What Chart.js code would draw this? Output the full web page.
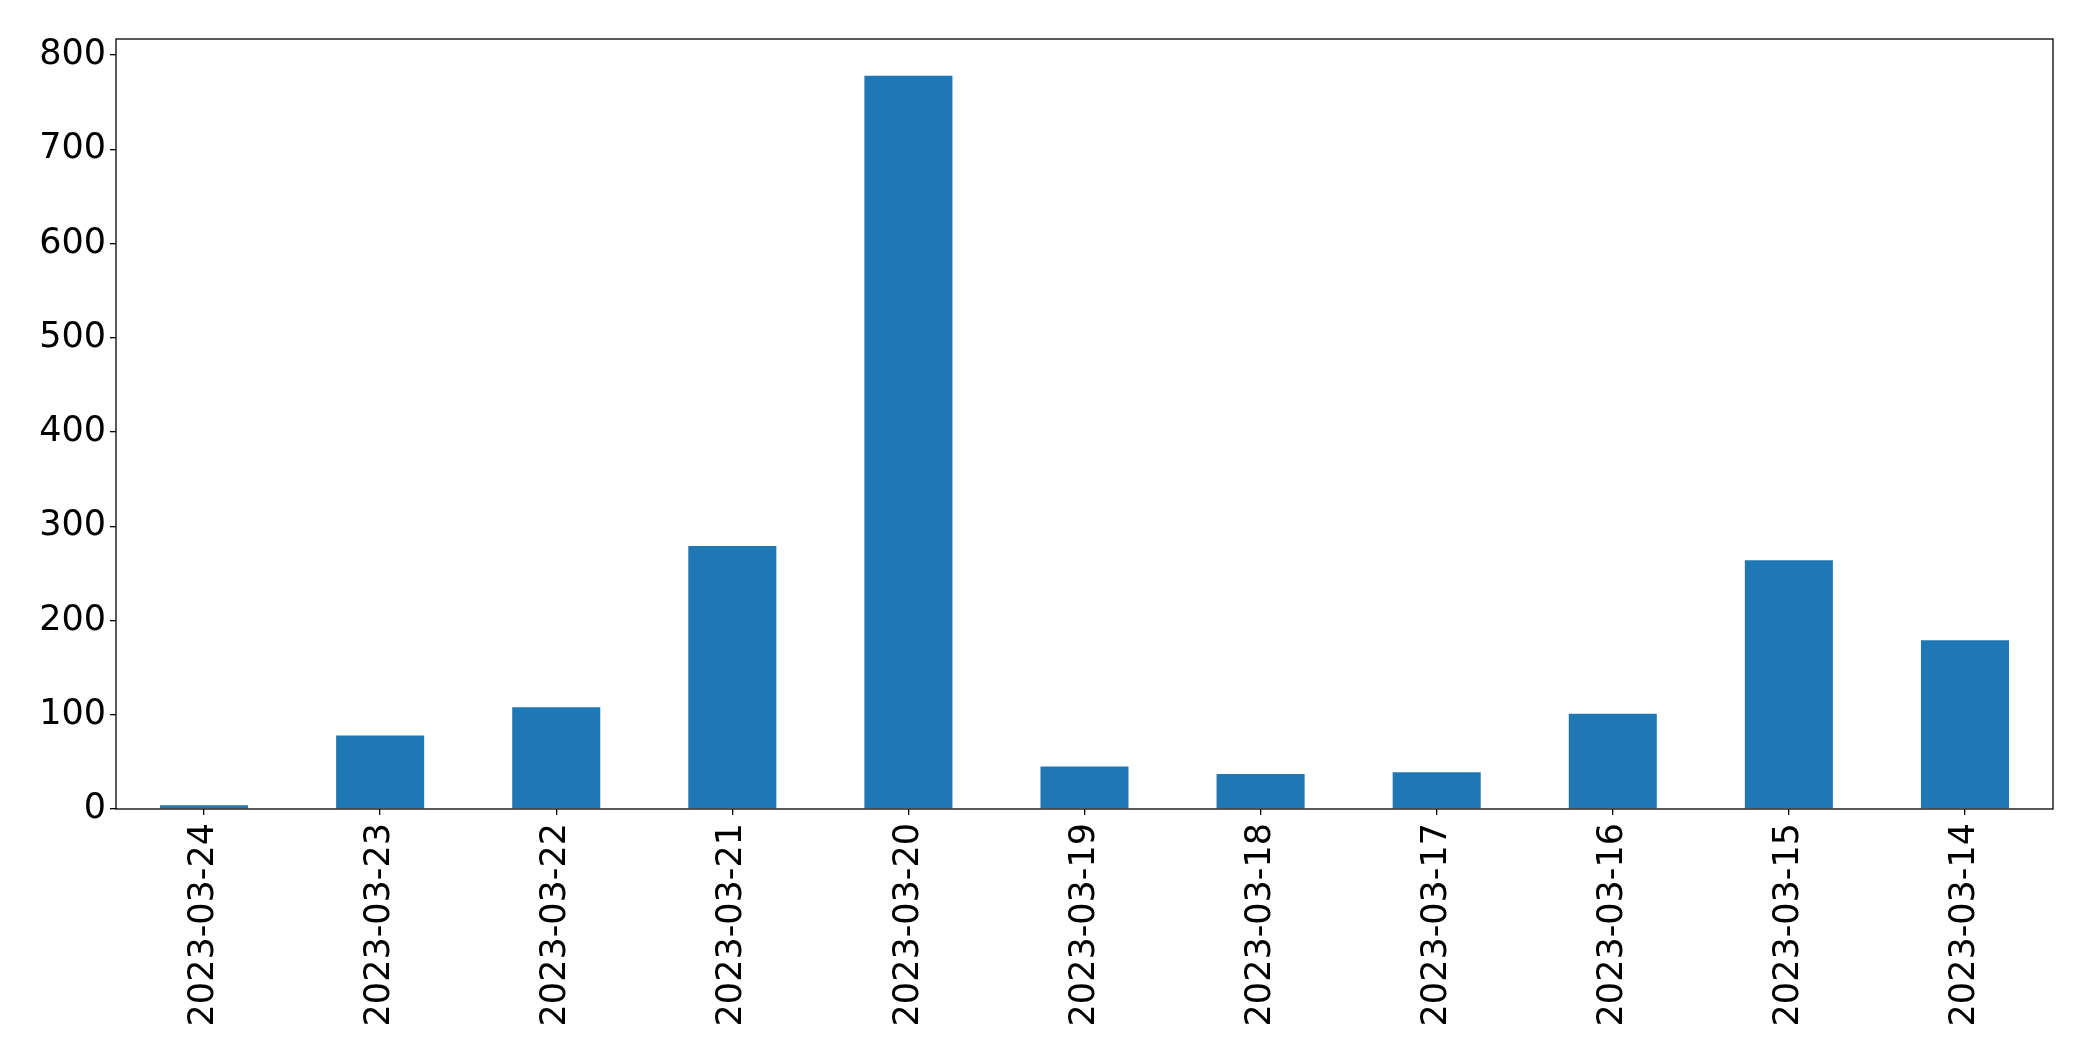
<!DOCTYPE html>
<html>
<head>
<meta charset="utf-8">
<script src="https://cdn.jsdelivr.net/npm/chart.js@4"></script>
<style>
  html, body { margin: 0; padding: 0; background: #fff; }
  #wrap { width: 2093px; height: 1061px; }
</style>
</head>
<body>
<div id="wrap"><canvas id="barChart" width="2093" height="1061"></canvas></div>
<script>
// Dates as they appear on the x axis (newest first)
const dates = ['2023-03-24', '2023-03-23', '2023-03-22', '2023-03-21', '2023-03-20',
  '2023-03-19', '2023-03-18', '2023-03-17', '2023-03-16', '2023-03-15', '2023-03-14'];
// Counts per day
const counts = [4, 78, 108, 279, 778, 45, 37, 39, 101, 264, 179];
// Y axis ticks
const yTicks = [0, 100, 200, 300, 400, 500, 600, 700, 800];

const tickFont = { family: 'DejaVu Sans', size: 35 };

// draw the full box around the plot area like matplotlib does
const frame = {
  id: 'frame',
  afterDraw(chart) {
    const a = chart.chartArea;
    const c = chart.ctx;
    c.save();
    c.strokeStyle = '#000';
    c.lineWidth = 1.3;
    c.strokeRect(a.left, a.top, a.right - a.left, a.bottom - a.top);
    c.restore();
  }
};

const ctx = document.getElementById('barChart').getContext('2d');
new Chart(ctx, {
  type: 'bar',
  data: {
    labels: dates,
    datasets: [{
      data: counts,
      backgroundColor: '#1f77b4',
      barPercentage: 0.5,
      categoryPercentage: 1.0
    }]
  },
  options: {
    responsive: false,
    animation: false,
    layout: { padding: { top: 39, right: 40, left: 0, bottom: 0 } },
    plugins: { legend: { display: false }, tooltip: { enabled: false } },
    scales: {
      x: {
        offset: true,
        grid: { display: true, offset: false, drawOnChartArea: false, tickLength: 6, color: '#000', lineWidth: 1.3 },
        border: { display: false },
        ticks: {
          font: tickFont, color: '#000',
          minRotation: 90, maxRotation: 90, autoSkip: false, padding: 8
        },
        afterFit(scale) { scale.height = 1061 - 809; }
      },
      y: {
        min: 0,
        max: Math.max(...counts) * 1.05,
        grid: { display: true, drawOnChartArea: false, tickLength: 6, color: '#000', lineWidth: 1.3 },
        border: { display: false },
        afterBuildTicks(scale) { scale.ticks = yTicks.map(v => ({ value: v })); },
        ticks: { font: tickFont, color: '#000', padding: 4 },
        afterFit(scale) { scale.width = 116; }
      }
    }
  },
  plugins: [frame]
});
</script>
</body>
</html>
